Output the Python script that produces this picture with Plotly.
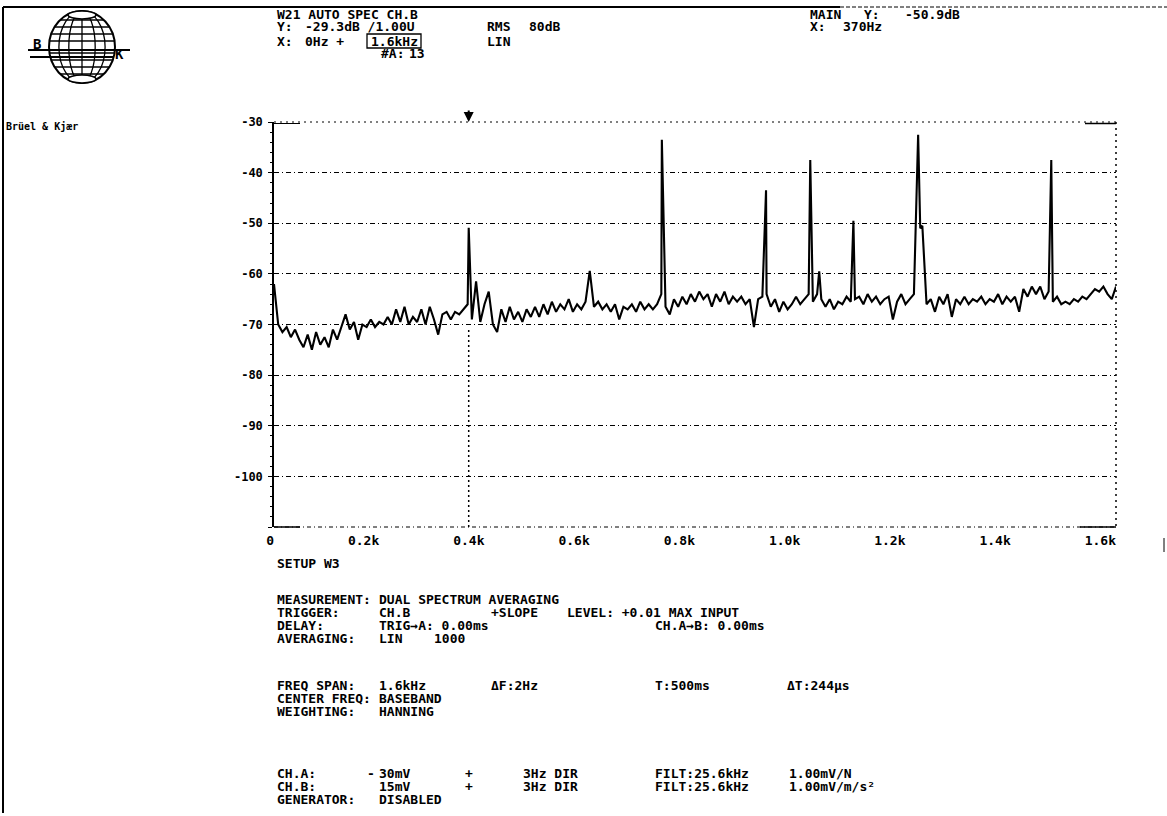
import math
import plotly.graph_objects as go

# ---------------- data ----------------
noise_step_hz = 8  # noise-floor samples every 8 Hz, 0..1600 Hz
noise_levels_db = [
    -62, -70, -71.5, -70.5, -72.5, -71, -73, -74.5, -72, -75,          # 0-72
    -71.5, -74, -72.5, -74.5, -71, -73, -70.5, -68, -71, -69.5,        # 80-152
    -73, -70, -70.5, -69, -70.5, -69.5, -70, -68.5, -70, -67,          # 160-232
    -69.5, -66.5, -70, -68.5, -69.5, -67, -70, -66.5, -69, -72,        # 240-312
    -68, -67.5, -69, -67.5, -68, -67, -66, -69, -61.5, -69.5,          # 320-392
    -66, -63.5, -70, -71.5, -67, -69.5, -66.5, -69, -67.5, -69.5,      # 400-472
    -67, -68.5, -66.5, -68.5, -66, -68, -65.5, -67.5, -66, -67,        # 480-552
    -65, -67.5, -66, -67, -65.5, -65, -66.5, -65.5, -67, -66,          # 560-632
    -67.5, -66, -69, -66.5, -67, -66, -67.5, -65.5, -67, -66,          # 640-712
    -67, -66, -64, -66.5, -68, -65, -66.5, -64.5, -66, -64,            # 720-792
    -65.5, -63.5, -65, -64, -66.5, -64, -65.5, -63.5, -66, -64.5,      # 800-872
    -65.5, -64.5, -66, -65, -70.5, -65, -64.5, -64, -66.5, -65,        # 880-952
    -67.5, -65.5, -67, -66, -64.5, -66, -65, -64, -65.5, -64,          # 960-1032
    -65, -66.5, -65, -67, -65.5, -66, -64.5, -65.5, -65, -64.5,        # 1040-1112
    -66, -64, -65.5, -64.5, -66, -65, -64.5, -69, -65.5, -64,          # 1120-1192
    -66, -65, -64, -64.5, -65, -66, -65, -67.5, -64.5, -66,            # 1200-1272
    -64, -68.5, -65, -66, -64.5, -66, -65, -65.5, -64.5, -66,          # 1280-1352
    -65, -65.5, -64, -66, -64.5, -65.5, -64.5, -67.5, -63, -64.5,      # 1360-1432
    -62.5, -64, -62.5, -65, -63.5, -65.5, -64.5, -66, -65.5, -66,      # 1440-1512
    -65, -65.5, -64.5, -65, -64, -63, -63.5, -62.5, -64, -65,          # 1520-1592
    -62.5,                                                             # 1600
]
peak_freqs_hz = [370, 600, 737, 935, 1019, 1036, 1101, 1224, 1228, 1232, 1477]
peak_levels_db = [-50.9, -59.4, -33.5, -43.5, -37.5, -59.5, -49.5, -32.5, -51.0, -50.5, -37.5]
cursor_freq_hz = 370

x_tick_vals = [0, 200, 400, 600, 800, 1000, 1200, 1400, 1600]
x_tick_text = ["0", "0.2k", "0.4k", "0.6k", "0.8k", "1.0k", "1.2k", "1.4k", "1.6k"]
y_tick_vals = [-110, -100, -90, -80, -70, -60, -50, -40, -30]
y_tick_text = ["", "-100", "-90", "-80", "-70", "-60", "-50", "-40", "-30"]

header_texts = [
    ("W21 AUTO SPEC CH.B", 276, 14), ("Y:", 276, 27), ("-29.3dB /1.00U", 304, 27),
    ("RMS", 486, 27), ("80dB", 528, 27), ("X:", 276, 41), ("0Hz +", 304, 41),
    ("1.6kHz", 370, 41), ("LIN", 486, 41), ("#A:", 380, 54), ("13", 408, 54),
    ("MAIN", 809, 14), ("Y:", 863, 14), ("-50.9dB", 904, 14),
    ("X:", 809, 27), ("370Hz", 842, 27),
]
setup_texts = [
    ("SETUP W3", 276, 563),
    ("MEASUREMENT:", 276, 599), ("DUAL SPECTRUM AVERAGING", 378, 599),
    ("TRIGGER:", 276, 612), ("CH.B", 378, 612), ("+SLOPE", 490, 612),
    ("LEVEL: +0.01 MAX INPUT", 566, 612),
    ("DELAY:", 276, 625), ("TRIG→A: 0.00ms", 378, 625), ("CH.A→B: 0.00ms", 654, 625),
    ("AVERAGING:", 276, 638), ("LIN", 378, 638), ("1000", 433, 638),
    ("FREQ SPAN:", 276, 685), ("1.6kHz", 378, 685), ("ΔF:2Hz", 490, 685),
    ("T:500ms", 654, 685), ("ΔT:244µs", 786, 685),
    ("CENTER FREQ:", 276, 698), ("BASEBAND", 378, 698),
    ("WEIGHTING:", 276, 711), ("HANNING", 378, 711),
    ("CH.A:", 276, 773), ("-", 366, 773), ("30mV", 378, 773), ("+", 464, 773),
    ("3Hz DIR", 522, 773), ("FILT:25.6kHz", 654, 773), ("1.00mV/N", 788, 773),
    ("CH.B:", 276, 786), ("15mV", 378, 786), ("+", 464, 786),
    ("3Hz DIR", 522, 786), ("FILT:25.6kHz", 654, 786), ("1.00mV/m/s²", 788, 786),
    ("GENERATOR:", 276, 799), ("DISABLED", 378, 799),
]

# ---------------- build ----------------
W, H = 1167, 816
FONT = "DejaVu Sans Mono"


def X(px):
    return px / W


def Y(py):
    return 1 - py / H


spectrum = dict(zip(range(0, 1601, noise_step_hz), noise_levels_db))
spectrum.update(zip(peak_freqs_hz, peak_levels_db))
freqs = sorted(spectrum)
levels = [spectrum[f] for f in freqs]

fig = go.Figure()
fig.add_trace(go.Scatter(x=freqs, y=levels, mode="lines",
                         line=dict(color="black", width=2.1), hoverinfo="skip",
                         showlegend=False))

annotations = []


def txt(s, px, py, size=13, anchor="left"):
    annotations.append(dict(text=s, x=X(px), y=Y(py), xref="paper", yref="paper",
                            xanchor=anchor, yanchor="middle", showarrow=False,
                            borderpad=0,
                            font=dict(family=FONT, size=size, color="black", weight="bold")))


for s, px, py in header_texts + setup_texts:
    txt(s, px, py)
txt("Brüel & Kjær", 5, 126, size=10)
txt("B", 32, 44, size=14)
txt("K", 114, 54, size=14)

annotations.append(dict(x=cursor_freq_hz, y=-30, xref="x", yref="y", ax=0, ay=-13,
                        showarrow=True, arrowhead=2, arrowsize=1, arrowwidth=2,
                        arrowcolor="black", text=""))

shapes = []


def pline(x0, y0, x1, y1, width=1.2, dash="solid", color="black"):
    shapes.append(dict(type="line", xref="paper", yref="paper", x0=X(x0), y0=Y(y0),
                       x1=X(x1), y1=Y(y1), line=dict(color=color, width=width, dash=dash)))


# page frame
pline(3, 7, 840, 7, width=2)
pline(840, 7, 1167, 7, width=1, dash="4px,2px")
pline(3, 7, 3, 813, width=2)
pline(1164, 538, 1164, 552, width=1)

# plot frame
pline(274, 122, 1116, 122, width=1, dash="2px,4px")
pline(274, 123.5, 300, 123.5, width=1)
pline(1085, 123.5, 1116, 123.5, width=1.5)
pline(1116, 122, 1116, 527, width=1.5, dash="2px,4px")
pline(274, 527, 1116, 527, width=1, dash="4px,3px,1px,3px")
pline(1080, 527, 1116, 527, width=1.5)
pline(274, 527, 300, 527, width=1.5)

shapes.append(dict(type="line", xref="x", yref="y", x0=cursor_freq_hz, x1=cursor_freq_hz,
                   y0=-110, y1=-71, line=dict(color="black", width=1.5, dash="2px,3px")))

shapes.append(dict(type="rect", xref="paper", yref="paper", x0=X(367), x1=X(421),
                   y0=Y(48), y1=Y(34), line=dict(color="black", width=1.3)))

cx, cy, rx, ry = 82, 47, 33, 36


def ell(x0, y0, x1, y1, width=1.5, fill=None):
    d = dict(type="circle", xref="paper", yref="paper", x0=X(x0), x1=X(x1),
             y0=Y(y1), y1=Y(y0), line=dict(color="black", width=width))
    if fill:
        d["fillcolor"] = fill
    shapes.append(d)


ell(cx - rx, cy - ry, cx + rx, cy + ry, width=2)
for f in (0.7, 0.4):
    ell(cx - rx * f, cy - ry, cx + rx * f, cy + ry, width=1.3)
pline(cx, cy - ry, cx, cy + ry, width=1.3)
for dy in (-27, -20, -13, -6, 6, 13, 20, 27):
    hw = rx * math.sqrt(max(0.0, 1 - (dy / ry) ** 2))
    pline(cx - hw, cy + dy, cx + hw, cy + dy, width=1.3)
ell(cx - 14, cy - ry, cx + 14, cy - ry + 8, width=1.5, fill="white")
ell(cx - 14, cy + ry - 8, cx + 14, cy + ry, width=1.5, fill="white")
pline(28, 50, 130, 50, width=2.2)
pline(30, 57, 113, 57, width=2.2)

fig.update_layout(
    width=W, height=H,
    margin=dict(l=0, r=0, t=0, b=0, pad=0, autoexpand=False),
    paper_bgcolor="white", plot_bgcolor="white",
    showlegend=False,
    annotations=annotations,
    shapes=shapes,
    xaxis=dict(domain=[X(274), X(1116)], range=[0, 1600], tickvals=x_tick_vals,
               ticktext=x_tick_text, showgrid=False, zeroline=False, showline=False,
               ticks="", ticklabelposition="outside left", automargin=False,
               ticklabelstandoff=4,
               tickfont=dict(family=FONT, size=13, color="black", weight="bold")),
    yaxis=dict(domain=[Y(527), Y(122)], range=[-110, -30], tickvals=y_tick_vals,
               ticktext=y_tick_text, showgrid=True, gridcolor="black", gridwidth=1,
               griddash="5px,3px,1px,3px", zeroline=False, showline=True, automargin=False,
               linecolor="black", linewidth=1.5, ticks="outside", ticklen=4,
               tickcolor="black", tickwidth=1.2, ticklabelstandoff=3,
               minor=dict(dtick=2, ticks="outside", ticklen=2, tickcolor="black"),
               tickfont=dict(family=FONT, size=12, color="black", weight="bold")),
)

fig.write_html("out.html", config={"displayModeBar": False},
               post_script="document.body.style.margin='0px';"
                           "document.body.style.overflow='hidden';")
